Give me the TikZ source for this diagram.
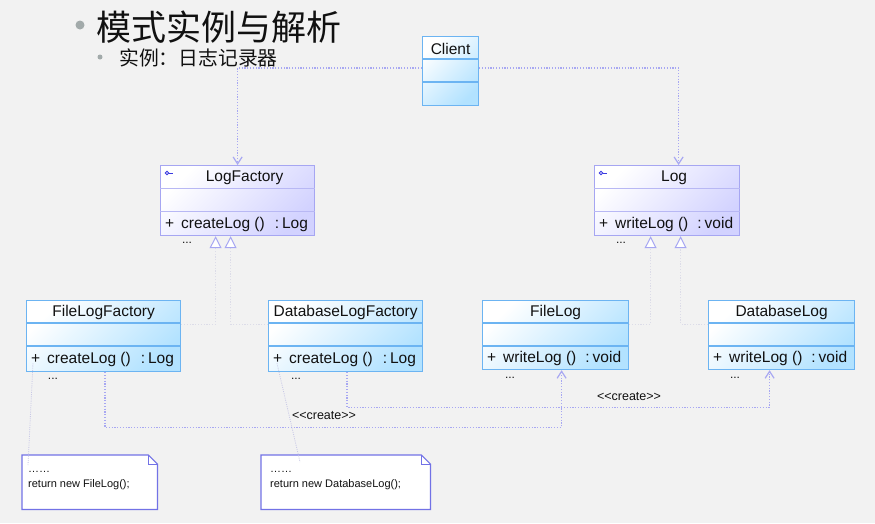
\documentclass[tikz,border=0pt]{standalone}
\usepackage{fontspec}
\setmainfont{Liberation Sans}
\newfontfamily\cjk{Noto Sans CJK SC}
\usetikzlibrary{arrows.meta,calc}
\definecolor{bgC}{HTML}{F2F2F2}
\definecolor{blueB}{HTML}{6CB4F2}
\definecolor{blueF}{HTML}{B2E2FF}
\definecolor{purpB}{HTML}{A6A6F2}
\definecolor{purpS}{HTML}{B8B8F4}
\definecolor{purpF}{HTML}{D2D2FF}
\definecolor{depC}{HTML}{A8A8F2}
\definecolor{genC}{HTML}{DCDCE8}
\definecolor{noteB}{HTML}{7272E6}
\definecolor{linkC}{HTML}{C8C8E6}
\definecolor{txt}{HTML}{111111}
\definecolor{bulC}{HTML}{A2AAAA}
\definecolor{iconC}{HTML}{3A3AE0}
\tikzset{
  bluecls/.style={draw=blueB, line width=1.2pt, top color=white, bottom color=blueF, shading angle=45, inner sep=0pt},
  purpcls/.style={draw=purpB, line width=1.2pt, top color=white, bottom color=purpF, shading angle=45, inner sep=0pt},
  bluesep/.style={draw=blueB, line width=1.5pt},
  purpsep/.style={draw=purpS, line width=1pt},
  ttl/.style={font=\fontsize{15.5}{18}\selectfont, text=txt, inner sep=0pt},
  mth/.style={font=\fontsize{15.5}{18}\selectfont, text=txt, inner sep=0pt, anchor=west},
  ddd/.style={font=\fontsize{12}{14}\selectfont, text=txt, inner sep=0pt},
  dep/.style={draw=depC, line width=1.2pt, dash pattern=on 1.2pt off 1.6pt, -{Straight Barb[length=7pt,width=9pt]}},
  gen/.style={draw=genC, line width=1pt, dash pattern=on 1.2pt off 1.6pt, -{Triangle[length=12pt,width=12pt,fill=white,color=purpB,line width=1pt]}},
  lbl/.style={font=\fontsize{12.5}{14}\selectfont, text=txt, inner sep=0pt},
  notebox/.style={draw=none, inner sep=0pt, anchor=north west},
  notebd/.style={draw=noteB, line width=1.2pt, fill=white},
  notetxt/.style={font=\fontsize{11}{15}\selectfont, text=txt, inner sep=0pt, align=left, anchor=north west},
  notelink/.style={draw=linkC, line width=0.8pt, dash pattern=on 1pt off 1.2pt},
}
\newcommand\umlbox[8]{%
  \node[#2cls, anchor=north west, minimum width={#5pt-#3pt}, minimum height={#6pt-#4pt}] (#1) at (#3,#4) {};
  \draw[#2sep] ($(#1.north west)+(0,23)$) -- ($(#1.north east)+(0,23)$);
  \draw[#2sep] ($(#1.north west)+(0,46)$) -- ($(#1.north east)+(0,46)$);
  \node[ttl] (#1-t) at ($(#1.north)+(#8,12.8)$) {#7};
}
\newcommand\umlicon[1]{%
  \draw[iconC, line width=0.9pt] ($(#1.north west)+(7,8)$) circle (1.8pt);
  \draw[iconC, line width=0.9pt] ($(#1.north west)+(8.8,8)$) -- ($(#1.north west)+(12.5,8)$);
}
\begin{document}
\begin{tikzpicture}[x=1pt,y=-1pt]
\useasboundingbox (0,0) rectangle (875,523);
\fill[bgC] (0,0) rectangle (875,523);

% titles
\node[circle, fill=bulC, minimum size=9pt, inner sep=0pt] (b1) at (80,25) {};
\node[anchor=west, inner sep=0pt, text=txt, font=\cjk\fontsize{35}{40}\selectfont] (title) at (96,27) {模式实例与解析};
\node[circle, fill=bulC, minimum size=5pt, inner sep=0pt] (b2) at (100,57) {};
\node[anchor=west, inner sep=0pt, text=txt, font=\cjk\fontsize{19.8}{22}\selectfont] (sub) at (119,58) {实例：日志记录器};

% classes
\umlbox{client}{blue}{422}{36}{478}{105}{Client}{0}
\umlbox{logf}{purp}{160}{165}{314}{235}{LogFactory}{7}
\umlbox{log}{purp}{594}{165}{739}{235}{Log}{7}
\umlbox{flf}{blue}{26}{300}{180}{371}{FileLogFactory}{0}
\umlbox{dblf}{blue}{268}{300}{422}{371}{DatabaseLogFactory}{0}
\umlbox{fl}{blue}{482}{300}{628}{369}{FileLog}{0}
\umlbox{dbl}{blue}{708}{300}{854}{369}{DatabaseLog}{0}
\umlicon{logf}
\umlicon{log}

\node[mth] (logf-m) at ($(logf.north west)+(5,59.3)$) {\makebox[16pt][l]{+}createLog ()\hspace{10pt}:\hspace{3pt}Log};
\node[mth] (log-m) at ($(log.north west)+(5,59.3)$) {\makebox[16pt][l]{+}writeLog ()\hspace{9pt}:\hspace{3pt}void};
\node[mth] (flf-m) at ($(flf.north west)+(5,59.3)$) {\makebox[16pt][l]{+}createLog ()\hspace{10pt}:\hspace{3pt}Log};
\node[mth] (dblf-m) at ($(dblf.north west)+(5,59.3)$) {\makebox[16pt][l]{+}createLog ()\hspace{10pt}:\hspace{3pt}Log};
\node[mth] (fl-m) at ($(fl.north west)+(5,58.8)$) {\makebox[16pt][l]{+}writeLog ()\hspace{9pt}:\hspace{3pt}void};
\node[mth] (dbl-m) at ($(dbl.north west)+(5,58.8)$) {\makebox[16pt][l]{+}writeLog ()\hspace{9pt}:\hspace{3pt}void};

\node[ddd] (logf-d) at (187,243) {...};
\node[ddd] (log-d) at (621,243) {...};
\node[ddd] (flf-d) at (53,379) {...};
\node[ddd] (dblf-d) at (296,379) {...};
\node[ddd] (fl-d) at (510,378) {...};
\node[ddd] (dbl-d) at (735,378) {...};

% dependencies from client
\draw[dep] ($(client.north west)+(0,32)$) -| (logf.north);
\draw[dep] ($(client.north east)+(0,32)$) -| ($(log.north)+(11.5,0)$);

% generalizations
\draw[gen] ($(flf.north east)+(0,24)$) -| ($(logf.south)+(-22,0)$);
\draw[gen] ($(dblf.north west)+(0,24)$) -| ($(logf.south)+(-7,0)$);
\draw[gen] ($(fl.north east)+(0,24)$) -| ($(log.south)+(-16.5,0)$);
\draw[gen] ($(dbl.north west)+(0,24)$) -| ($(log.south)+(13.5,0)$);

% create dependencies
\draw[dep] ($(flf.south west)+(79,0)$) -- ++(0,55) -| ($(fl.south)+(6,0)$);
\draw[dep] ($(dblf.south west)+(79,0)$) -- ++(0,35) -| ($(dbl.south)+(-12,0)$);
\node[lbl] (cr1) at (324,416) {<{}<create>{}>};
\node[lbl] (cr2) at (629,397) {<{}<create>{}>};

% notes
\node[notebox, minimum width=135pt, minimum height=54pt] (n1) at (22,455) {};
\draw[notebd] (n1.north west) -- ($(n1.north east)+(-9,0)$) -- ($(n1.north east)+(0,9)$) -- (n1.south east) -- (n1.south west) -- cycle;
\draw[noteB, line width=0.8pt] ($(n1.north east)+(-9,0)$) -- ($(n1.north east)+(-9,9)$) -- ($(n1.north east)+(0,9)$);
\node[notetxt] (n1-t) at ($(n1.north west)+(6,16)$) {……\\return new FileLog();};

\node[notebox, minimum width=169pt, minimum height=54pt] (n2) at (261,455) {};
\draw[notebd] (n2.north west) -- ($(n2.north east)+(-9,0)$) -- ($(n2.north east)+(0,9)$) -- (n2.south east) -- (n2.south west) -- cycle;
\draw[noteB, line width=0.8pt] ($(n2.north east)+(-9,0)$) -- ($(n2.north east)+(-9,9)$) -- ($(n2.north east)+(0,9)$);
\node[notetxt] (n2-t) at ($(n2.north west)+(9,16)$) {……\\return new DatabaseLog();};

% note links
\coordinate (l1a) at ($(flf-m.west)+(2,4)$);
\coordinate (l2a) at ($(dblf-m.west)+(4,4)$);
\draw[notelink] (l1a) -- ($(n1.north west)+(6,10)$);
\draw[notelink] (l2a) -- ($(n2.north west)+(39,7)$);
\end{tikzpicture}
\end{document}
